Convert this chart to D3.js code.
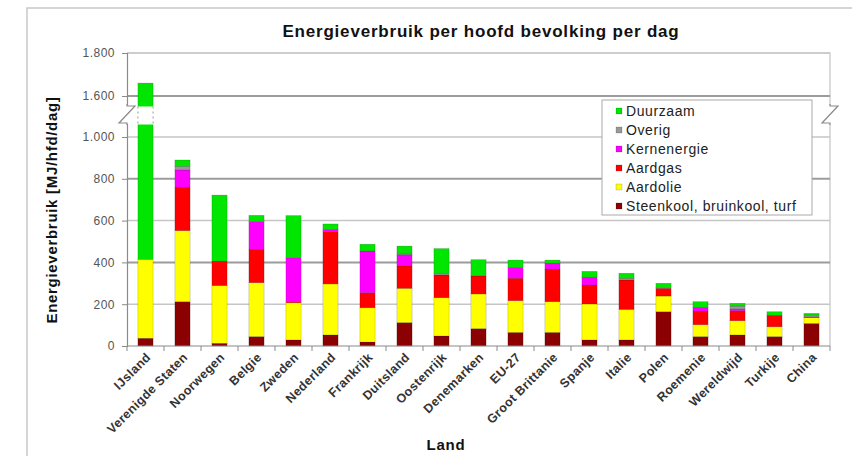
<!DOCTYPE html>
<html><head><meta charset="utf-8">
<script src="https://cdn.jsdelivr.net/npm/d3@7/dist/d3.min.js"></script>
<style>body{margin:0;background:#fff}svg{display:block}text{font-family:"Liberation Sans",Arial,sans-serif}</style>
</head><body><svg id="c" width="852" height="456"></svg>
<script>
const categories = ["IJsland","Verenigde Staten","Noorwegen","Belgie","Zweden","Nederland","Frankrijk","Duitsland","Oostenrijk","Denemarken","EU-27","Groot Brittanie","Spanje","Italie","Polen","Roemenie","Wereldwijd","Turkije","China"];
const steenkool  = [37,212,13,45,29,53,19,112,48,83,65,65,29,29,164,45,53,45,108];
const aardolie   = [378,340,276,258,178,244,164,164,183,166,152,147,172,146,75,57,68,47,28];
const aardgas    = [0,208,117,160,6,250,72,107,109,86,107,156,91,141,37,65,48,55,3];
const kernenergie= [0,82,0,132,209,11,200,52,0,0,52,28,37,0,0,18,9,0,1];
const overig     = [0,18,0,0,0,0,0,5,8,0,0,0,0,8,4,0,13,0,8];
const duurzaam   = [1245,30,316,30,202,26,32,38,118,78,35,15,28,24,20,27,13,17,8];
const seriesNames = ["Steenkool, bruinkool, turf","Aardolie","Aardgas","Kernenergie","Overig","Duurzaam"];
const seriesColors = ["#8b0000","#ffff00","#ff0000","#ff00ff","#999999","#00e600"];
const yTicks = [0,200,400,600,800,1000,1600,1800];
const yTickLabels = ["0","200","400","600","800","1.000","1.600","1.800"];

const seriesData = [steenkool,aardolie,aardgas,kernenergie,overig,duurzaam];
const rows = categories.map((c,i)=>{const r={cat:c}; seriesNames.forEach((s,j)=>r[s]=seriesData[j][i]); return r;});

const svg = d3.select("#c");
const L=127, R=830, T=53, B=346;

// outer frame
svg.append("rect").attr("x",27).attr("y",8).attr("width",840).attr("height",470)
  .attr("fill","#fff").attr("stroke","#c8c8c8").attr("stroke-width",1.5);

const x = d3.scaleBand().domain(categories).range([L,R]).paddingInner(0.59).paddingOuter(0.295);
const y = d3.scaleLinear().domain([0,1000,1600,1800]).range([B,137,96,T]);

// plot border (top/right)
svg.append("path").attr("d",`M${L},${T}H${R}V${B}`).attr("fill","none").attr("stroke","#c4c4c4").attr("stroke-width",1.2);

// gridlines
const darkGrid = new Set([400,800,1600]);
svg.append("g").selectAll("line").data(yTicks.filter(d=>d>0)).join("line")
  .attr("x1",L).attr("x2",R).attr("y1",d=>y(d)).attr("y2",d=>y(d))
  .attr("stroke",d=>darkGrid.has(d)?"#9c9c9c":"#c6c6c6")
  .attr("stroke-width",d=>darkGrid.has(d)?2:1.5);

// bars
const stack = d3.stack().keys(seriesNames)(rows);
svg.append("g").selectAll("g").data(stack).join("g")
  .attr("fill",(d,i)=>seriesColors[i])
  .selectAll("rect").data(d=>d.filter(p=>p[1]-p[0]>0)).join("rect")
  .attr("x",d=>x(d.data.cat)).attr("width",x.bandwidth())
  .attr("y",d=>y(d[1])).attr("height",d=>y(d[0])-y(d[1]))
  .attr("stroke","rgba(0,0,0,0.25)").attr("stroke-width",0.6);

// break gap in the first bar
const gapTop = 106.5, gapBot = 124.5;
const bx = x(categories[0]), bw = x.bandwidth();
svg.append("rect").attr("x",bx-1).attr("y",gapTop).attr("width",bw+2).attr("height",gapBot-gapTop).attr("fill","#fff");
[bx, bx+bw].forEach(xx=>svg.append("line").attr("x1",xx).attr("x2",xx).attr("y1",gapTop).attr("y2",gapBot)
  .attr("stroke","#999").attr("stroke-dasharray","2,3"));

// y axis
const ya = svg.append("g").attr("transform",`translate(${L},0)`)
  .call(d3.axisLeft(y).tickValues(yTicks).tickFormat((d,i)=>yTickLabels[i]).tickSize(5).tickPadding(7));
ya.select(".domain").attr("stroke","#8a8a8a").attr("stroke-width",1.2);
ya.selectAll(".tick line").attr("stroke","#8a8a8a");
ya.selectAll("text").attr("font-size",12).attr("letter-spacing",0.5).attr("fill","#555");

// axis breaks
function brk(xx){
  svg.append("rect").attr("x",xx-2).attr("y",105).attr("width",4).attr("height",19).attr("fill","#fff");
  svg.append("path").attr("d",`M${xx},104V106H${xx+8}L${xx-8},123H${xx}V125`)
    .attr("fill","none").attr("stroke","#8a8a8a").attr("stroke-width",1.2);
}
brk(L); brk(R);

// x axis
const xa = svg.append("g").attr("transform",`translate(0,${B})`);
xa.append("line").attr("x1",L).attr("x2",R).attr("stroke","#8a8a8a").attr("stroke-width",1.2);
const step = x.step();
xa.selectAll("line.t").data(d3.range(categories.length+1)).join("line").attr("class","t")
  .attr("x1",i=>L+i*step).attr("x2",i=>L+i*step).attr("y1",0).attr("y2",5).attr("stroke","#8a8a8a");
xa.selectAll("text").data(categories).join("text")
  .attr("transform",d=>`translate(${x(d)+x.bandwidth()/2+6},${12}) rotate(-45)`)
  .attr("text-anchor","end").attr("font-size",12.5).attr("letter-spacing",0.4).attr("font-weight","bold").attr("fill","#333").text(d=>d);

// titles
svg.append("text").attr("x",481).attr("y",37).attr("text-anchor","middle")
  .attr("font-size",17).attr("letter-spacing",0.8).attr("font-weight","bold").attr("fill","#111").text("Energieverbruik per hoofd bevolking per dag");
svg.append("text").attr("transform","translate(57,210) rotate(-90)").attr("text-anchor","middle")
  .attr("font-size",15).attr("letter-spacing",0.7).attr("font-weight","bold").attr("fill","#111").text("Energieverbruik [MJ/hfd/dag]");
svg.append("text").attr("x",446).attr("y",450).attr("text-anchor","middle")
  .attr("font-size",15).attr("letter-spacing",0.8).attr("font-weight","bold").attr("fill","#111").text("Land");

// legend
const lg = svg.append("g");
lg.append("rect").attr("x",602).attr("y",100).attr("width",210).attr("height",115)
  .attr("fill","#fff").attr("stroke","#aaa");
const legOrder = seriesNames.map((s,i)=>({s,c:seriesColors[i]})).reverse();
const li = lg.selectAll("g").data(legOrder).join("g").attr("transform",(d,i)=>`translate(616,${111+i*19})`);
li.append("rect").attr("x",0).attr("y",-3).attr("width",6).attr("height",6).attr("fill",d=>d.c).attr("stroke","rgba(0,0,0,0.3)").attr("stroke-width",0.5);
li.append("text").attr("x",10).attr("y",5).attr("font-size",14).attr("letter-spacing",0.6).attr("fill","#222").text(d=>d.s);
</script></body></html>
